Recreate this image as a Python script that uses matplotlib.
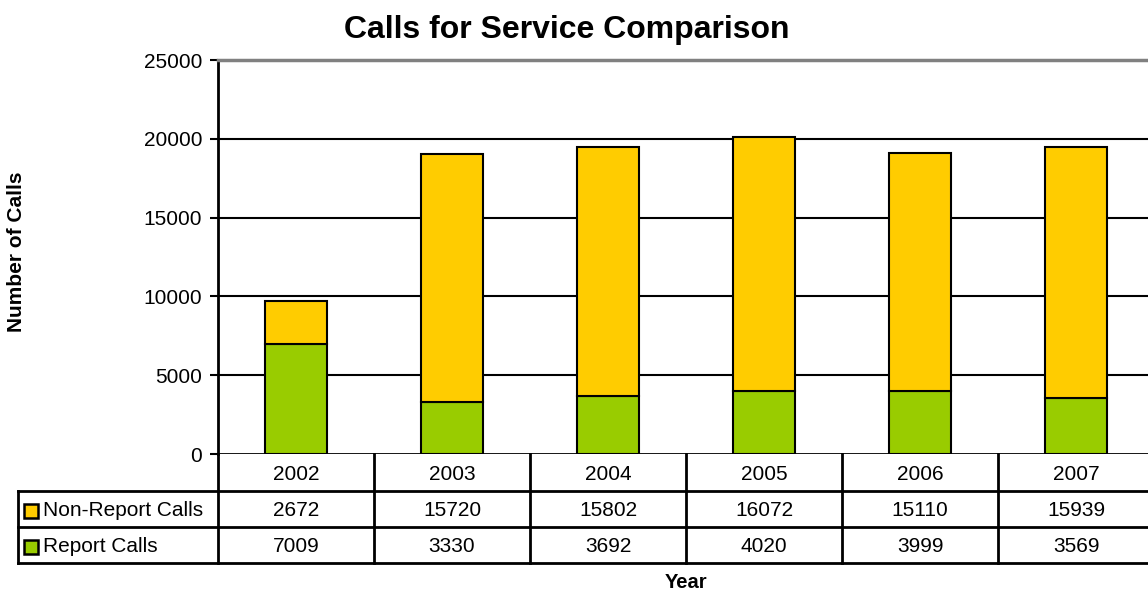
import numpy as np
import matplotlib.pyplot as plt
from matplotlib.patches import Rectangle

plt.rcParams['font.family'] = ['Liberation Sans', 'DejaVu Sans']

# dados
anos = ['2002', '2003', '2004', '2005', '2006', '2007']
nao_relatorio = [2672, 15720, 15802, 16072, 15110, 15939]
relatorio = [7009, 3330, 3692, 4020, 3999, 3569]
series = ['Non-Report Calls', 'Report Calls']
cores = ['#FFCC00', '#99CC00']

W, H = 1148, 592
fig = plt.figure(figsize=(W / 100, H / 100), dpi=100)

# area do grafico (em pixels da referencia)
x0, x1 = 218, 1154
y_top, y_zero = 60, 454
ax = fig.add_axes([x0 / W, 1 - y_zero / H, (x1 - x0) / W, (y_zero - y_top) / H])

x = np.arange(len(anos))
ax.bar(x, relatorio, width=0.4, color=cores[1], edgecolor='black', linewidth=1.5, zorder=3)
ax.bar(x, nao_relatorio, width=0.4, bottom=relatorio, color=cores[0], edgecolor='black',
       linewidth=1.5, zorder=3)

ax.set_xlim(-0.5, len(anos) - 0.5)
ax.set_ylim(0, 25000)
ax.set_yticks(np.arange(0, 25001, 5000))
ax.set_xticks([])
ax.tick_params(axis='y', labelsize=15, length=6, width=1.5, direction='out', pad=5.5)
for v in range(5000, 25000, 5000):
    ax.axhline(v, color='black', linewidth=1.5, zorder=1)
for s in ['right', 'bottom']:
    ax.spines[s].set_visible(False)
ax.spines['top'].set_color('#808080')
ax.spines['top'].set_linewidth(2.5)
ax.spines['left'].set_linewidth(2)
ax.axhline(0, color='black', linewidth=2, zorder=4)

# tabela de dados abaixo do grafico
def fx(px):
    return px / W

def fy(py):
    return 1 - py / H

lw = 2
col_w = (x1 - x0) / len(anos)
linhas = [454, 491, 527, 563]
for yy in linhas[1:]:
    fig.add_artist(plt.Line2D([fx(18), fx(x1)], [fy(yy), fy(yy)], color='black', lw=lw))
fig.add_artist(plt.Line2D([fx(18), fx(18)], [fy(491), fy(563)], color='black', lw=lw))
for k in range(len(anos) + 1):
    xx = x0 + k * col_w
    fig.add_artist(plt.Line2D([fx(xx), fx(xx)], [fy(454), fy(563)], color='black', lw=lw))

valores = [nao_relatorio, relatorio]
for k, ano in enumerate(anos):
    cx = x0 + (k + 0.5) * col_w
    fig.text(fx(cx), fy(474), ano, ha='center', va='center', fontsize=15)
    for r, vals in enumerate(valores):
        cy = (linhas[r + 1] + linhas[r + 2]) / 2 + 1.5
        fig.text(fx(cx), fy(cy), str(vals[k]), ha='center', va='center', fontsize=15)

for r, nome in enumerate(series):
    cy = (linhas[r + 1] + linhas[r + 2]) / 2 + 1.5
    fig.add_artist(Rectangle((fx(24), fy(cy + 7)), 14 / W, 14 / H, facecolor=cores[r],
                             edgecolor='black', lw=1.8, transform=fig.transFigure))
    fig.text(fx(43), fy(cy), nome, ha='left', va='center', fontsize=15)

fig.text(fx(567), fy(38), 'Calls for Service Comparison', ha='center', va='baseline',
         fontsize=23, fontweight='bold')
fig.text(fx(17), fy(252), 'Number of Calls', ha='center', va='center', rotation=90,
         fontsize=15, fontweight='bold')
fig.text(fx(686), fy(583), 'Year', ha='center', va='center', fontsize=14.5, fontweight='bold')

fig.savefig('out.png', dpi=100)
